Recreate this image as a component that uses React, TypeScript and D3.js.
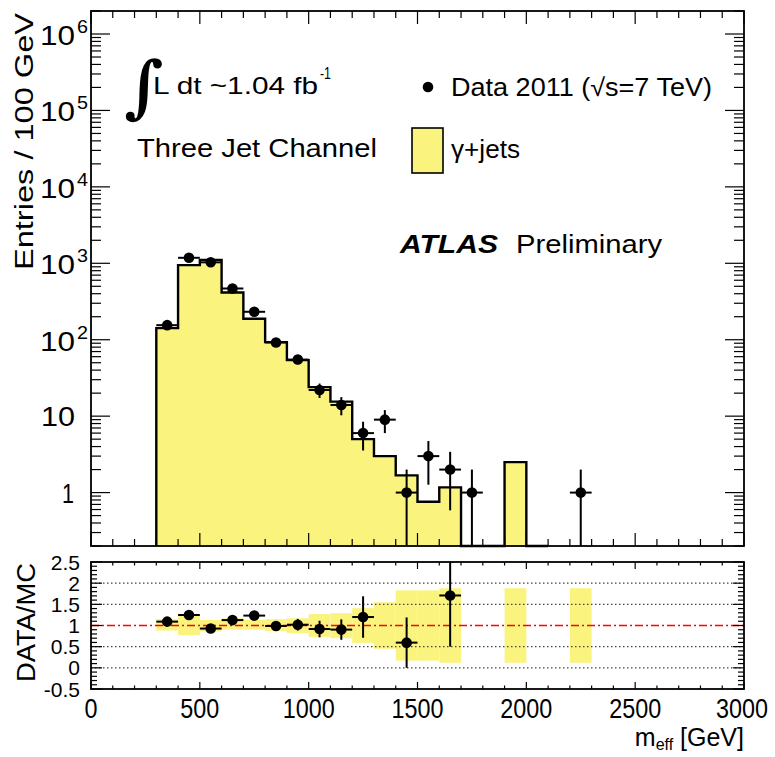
import React from "react";
import * as d3 from "d3";

// ---------- data ----------
const mcBinLow = [300, 400, 500, 600, 700, 800, 900, 1000, 1100, 1200, 1300, 1400, 1500, 1600, 1700, 1800, 1900, 2000];
const mcValues = [142, 945, 1110, 415, 188, 93, 54, 24, 15.5, 5.0, 3.0, 1.68, 0.76, 1.17, 0, 0, 2.5, 0];
const binWidth = 100;

const dataCenters = [350, 450, 550, 650, 750, 850, 950, 1050, 1150, 1250, 1350, 1450, 1550, 1650, 1750, 2250];
const dataCounts = [155, 1180, 1030, 468, 232, 92, 55, 22, 14, 6, 9, 1, 3, 2, 1, 1];

const bandBinLow = [300, 400, 500, 600, 700, 800, 900, 1000, 1100, 1200, 1300, 1400, 1500, 1600, 1900, 2200];
const bandLow = [0.88, 0.77, 0.86, 0.9, 0.9, 0.87, 0.82, 0.73, 0.7, 0.59, 0.45, 0.17, 0.17, 0.12, 0.12, 0.12];
const bandHigh = [1.15, 1.26, 1.13, 1.17, 1.13, 1.15, 1.17, 1.27, 1.29, 1.41, 1.55, 1.83, 1.83, 1.88, 1.88, 1.88];

const xTickLabels = ["0", "500", "1000", "1500", "2000", "2500", "3000"];
const ratioTickLabels = ["-0.5", "0", "0.5", "1", "1.5", "2", "2.5"];
const logDecades = [0, 1, 2, 3, 4, 5, 6];
const gridLevels = [0, 0.5, 1.5, 2];

// ---------- layout ----------
const W = 775, H = 757;
const L = 91, R = 744;
const topT = 11, topB = 546;
const botT = 562, botB = 689;
const FONT = "'Liberation Sans', Arial, Helvetica, sans-serif";
const YELLOW = "#faf47e";

export default function App() {
  const x = d3.scaleLinear().domain([0, 3000]).range([L, R]);
  const yT = d3.scaleLog().domain([0.2, 2e6]).range([topB, topT]);
  const yB = d3.scaleLinear().domain([-0.5, 2.5]).range([botB, botT]);

  // histogram step path
  const pts: [number, number][] = [];
  pts.push([x(mcBinLow[0]), topB]);
  mcBinLow.forEach((lo, i) => {
    const v = mcValues[i];
    const yy = v > 0 ? yT(v) : topB;
    pts.push([x(lo), yy]);
    pts.push([x(lo + binWidth), yy]);
  });
  pts.push([x(mcBinLow[mcBinLow.length - 1] + binWidth), topB]);
  const histPath = d3.line()(pts) as string;

  const xMinor = d3.range(0, 3001, 100);
  const logMinor: number[] = [];
  for (let e = -1; e <= 6; e++) {
    for (let k = 2; k <= 9; k++) {
      const v = k * Math.pow(10, e);
      if (v >= 0.2 && v <= 2e6) logMinor.push(v);
    }
  }
  const ratioMinor = d3.range(-0.5, 2.5001, 0.1);

  const ratios = dataCenters
    .map((c, i) => {
      const mi = mcBinLow.indexOf(c - binWidth / 2);
      const mc = mi >= 0 ? mcValues[mi] : 0;
      if (mc <= 0) return null;
      const r = dataCounts[i] / mc;
      return { c, r, e: r / Math.sqrt(dataCounts[i]) };
    })
    .filter((d) => d && d.r <= 2.5) as { c: number; r: number; e: number }[];

  const clipY = (v: number) => Math.max(-0.5, Math.min(2.5, v));

  return (
    <svg width={W} height={H} style={{ position: "absolute", left: 0, top: 0, background: "#fff" }} fontFamily={FONT}>
      <defs>
        <clipPath id="clipTop"><rect x={L} y={topT} width={R - L} height={topB - topT} /></clipPath>
        <clipPath id="clipBot"><rect x={L} y={botT} width={R - L} height={botB - botT} /></clipPath>
      </defs>

      {/* ===== top panel ===== */}
      <path d={histPath} fill={YELLOW} stroke="none" />
      <path d={histPath} fill="none" stroke="#000" strokeWidth={2.4} strokeLinejoin="miter" />

      {/* data points */}
      <g clipPath="url(#clipTop)">
        {dataCenters.map((c, i) => {
          const n = dataCounts[i];
          const e = Math.sqrt(n);
          const lo = n - e > 0.2 ? yT(n - e) : topB;
          return (
            <g key={"d" + c}>
              <line x1={x(c - 50)} x2={x(c + 50)} y1={yT(n)} y2={yT(n)} stroke="#000" strokeWidth={2} />
              <line x1={x(c)} x2={x(c)} y1={yT(n + e)} y2={lo} stroke="#000" strokeWidth={2} />
              <circle cx={x(c)} cy={yT(n)} r={5.3} fill="#000" />
            </g>
          );
        })}
      </g>

      {/* frame & ticks top */}
      <rect x={L} y={topT} width={R - L} height={topB - topT} fill="none" stroke="#000" strokeWidth={1.8} />
      {xMinor.map((v) => {
        const len = v % 500 === 0 ? 13 : 7;
        return (
          <g key={"xt" + v} stroke="#000" strokeWidth={1.2}>
            <line x1={x(v)} x2={x(v)} y1={topT} y2={topT + len} />
            <line x1={x(v)} x2={x(v)} y1={topB} y2={topB - len} />
          </g>
        );
      })}
      {logDecades.map((d) => {
        const yy = yT(Math.pow(10, d));
        return (
          <g key={"ld" + d} stroke="#000" strokeWidth={1.2}>
            <line x1={L} x2={L + 19} y1={yy} y2={yy} />
            <line x1={R} x2={R - 19} y1={yy} y2={yy} />
          </g>
        );
      })}
      {logMinor.map((v) => {
        const yy = yT(v);
        return (
          <g key={"lm" + v} stroke="#000" strokeWidth={1.2}>
            <line x1={L} x2={L + 10} y1={yy} y2={yy} />
            <line x1={R} x2={R - 10} y1={yy} y2={yy} />
          </g>
        );
      })}

      {/* y tick labels top */}
      {logDecades.map((d) => {
        const yy = yT(Math.pow(10, d));
        if (d === 0)
          return <text key={"yl" + d} x={74} y={yy + 10} fontSize={28} textAnchor="end" textLength={12} lengthAdjust="spacingAndGlyphs">1</text>;
        if (d === 1)
          return <text key={"yl" + d} x={75} y={yy + 10} fontSize={28} textAnchor="end" textLength={34} lengthAdjust="spacingAndGlyphs">10</text>;
        return (
          <g key={"yl" + d}>
            <text x={75} y={yy + 11} fontSize={28} textAnchor="end" textLength={35} lengthAdjust="spacingAndGlyphs">10</text>
            <text x={77} y={yy - 1} fontSize={18} textAnchor="start" textLength={11} lengthAdjust="spacingAndGlyphs">{String(d)}</text>
          </g>
        );
      })}

      <text transform={`translate(33,${(13 + 270) / 2}) rotate(-90)`} fontSize={25} textAnchor="middle" textLength={257} lengthAdjust="spacingAndGlyphs">Entries / 100 GeV</text>

      {/* annotations */}
      <text x={124} y={110} fontSize={68} fontFamily="'DejaVu Serif', serif" fontStyle="italic" fontWeight="bold">∫</text>
      <text x={153} y={94} fontSize={24} textLength={165} lengthAdjust="spacingAndGlyphs">L dt ~1.04 fb</text>
      <text x={320} y={79} fontSize={16} textLength={11} lengthAdjust="spacingAndGlyphs">-1</text>
      <text x={137} y={157} fontSize={26} textLength={240} lengthAdjust="spacingAndGlyphs">Three Jet Channel</text>

      <circle cx={428} cy={87} r={5.3} fill="#000" />
      <text x={451} y={96} fontSize={25} textLength={261} lengthAdjust="spacingAndGlyphs">Data 2011 (√s=7 TeV)</text>
      <rect x={412} y={128} width={31} height={45} fill={YELLOW} stroke="#000" strokeWidth={1.6} />
      <text x={451} y={158} fontSize={25} textLength={69} lengthAdjust="spacingAndGlyphs">γ+jets</text>

      <text x={400} y={253} fontSize={25} fontWeight="bold" fontStyle="italic" textLength={98} lengthAdjust="spacingAndGlyphs">ATLAS</text>
      <text x={516} y={253} fontSize={25} textLength={146} lengthAdjust="spacingAndGlyphs">Preliminary</text>

      {/* ===== bottom panel ===== */}
      {bandBinLow.map((lo, i) => (
        <rect key={"b" + lo} x={x(lo)} width={x(lo + binWidth) - x(lo)} y={yB(bandHigh[i])} height={yB(bandLow[i]) - yB(bandHigh[i])} fill={YELLOW} />
      ))}
      {gridLevels.map((g) => (
        <line key={"g" + g} x1={L} x2={R} y1={yB(g)} y2={yB(g)} stroke="#444" strokeWidth={1.2} strokeDasharray="1.5 2.5" />
      ))}
      <line x1={L} x2={R} y1={yB(1)} y2={yB(1)} stroke="#ff0000" strokeWidth={1.5} strokeDasharray="8 3 2 3" />

      <g clipPath="url(#clipBot)">
        {ratios.map((d) => (
          <g key={"r" + d.c}>
            <line x1={x(d.c - 50)} x2={x(d.c + 50)} y1={yB(d.r)} y2={yB(d.r)} stroke="#000" strokeWidth={2} />
            <line x1={x(d.c)} x2={x(d.c)} y1={yB(clipY(d.r + d.e))} y2={yB(clipY(d.r - d.e))} stroke="#000" strokeWidth={2} />
            <circle cx={x(d.c)} cy={yB(d.r)} r={5.3} fill="#000" />
          </g>
        ))}
      </g>

      <rect x={L} y={botT} width={R - L} height={botB - botT} fill="none" stroke="#000" strokeWidth={1.8} />
      {xMinor.map((v) => {
        const len = v % 500 === 0 ? 7 : 3.5;
        return (
          <g key={"bx" + v} stroke="#000" strokeWidth={1.2}>
            <line x1={x(v)} x2={x(v)} y1={botT} y2={botT + len} />
            <line x1={x(v)} x2={x(v)} y1={botB} y2={botB - len} />
          </g>
        );
      })}
      {ratioMinor.map((v) => {
        const major = Math.abs(Math.round(v * 2) - v * 2) < 1e-6;
        const len = major ? 11 : 6;
        const yy = yB(v);
        return (
          <g key={"by" + v.toFixed(2)} stroke="#000" strokeWidth={1.2}>
            <line x1={L} x2={L + len} y1={yy} y2={yy} />
            <line x1={R} x2={R - len} y1={yy} y2={yy} />
          </g>
        );
      })}
      {ratioTickLabels.map((t) => (
        <text key={"rl" + t} x={80} y={yB(+t) + 7.5} fontSize={21} textAnchor="end">{t}</text>
      ))}
      <text transform={`translate(35,${(563 + 682) / 2}) rotate(-90)`} fontSize={26} textAnchor="middle" textLength={119} lengthAdjust="spacingAndGlyphs">DATA/MC</text>

      {xTickLabels.map((t) => (
        <text key={"xl" + t} x={t === "3000" ? x(+t) - 2 : x(+t)} y={718} fontSize={27} textAnchor="middle" textLength={t.length * 13} lengthAdjust="spacingAndGlyphs">{t}</text>
      ))}
      <text x={744} y={746} fontSize={25} textAnchor="end">
        m<tspan fontSize={16} dy={4}>eff</tspan><tspan dy={-4}> [GeV]</tspan>
      </text>
    </svg>
  );
}
